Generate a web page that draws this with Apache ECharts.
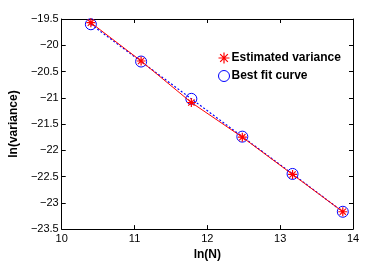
<!DOCTYPE html>
<html><head><meta charset="utf-8">
<script src="https://cdn.jsdelivr.net/npm/echarts@6/dist/echarts.min.js"></script>
<style>html,body{margin:0;padding:0;background:#fff}#c{width:390px;height:266px}</style>
</head><body><div id="c"></div>
<script>
var lnN = [10.40, 11.09, 11.78, 12.48, 13.17, 13.86];
var estimated = [-19.57, -20.30, -21.09, -21.75, -22.46, -23.17];
var bestFit = [-19.60, -20.31, -21.02, -21.74, -22.45, -23.17];
var xTicks = [10, 11, 12, 13, 14];
var yTicks = [-23.5, -23, -22.5, -22, -21.5, -21, -20.5, -20, -19.5];

var star = 'path://M0,-10L0,10M-10,0L10,0M-7,-7L7,7M-7,7L7,-7';
var font = 'Liberation Sans, Arial, sans-serif';
function fmt(v){ return String(v).replace('-', '\u2212'); }
function pairs(ys){ return lnN.map(function(x,i){ return [x, ys[i]]; }); }

var chart = echarts.init(document.getElementById('c'));
var tickStyle = {show:true, inside:true, length:4, lineStyle:{color:'#000', width:1}};
chart.setOption({
  animation:false,
  grid:{left:51, right:37, top:19, bottom:30},
  legend:{
    left:211, top:45, orient:'vertical', itemGap:4, itemWidth:11, itemHeight:11,
    textStyle:{fontFamily:font, fontSize:12, fontWeight:'bold', color:'#000', padding:[0,0,0,-3]},
    data:[
      {name:'Estimated variance', icon:star, itemStyle:{color:'none', borderColor:'#ff0000', borderWidth:1.2}},
      {name:'Best fit curve', icon:'circle', itemStyle:{color:'rgba(0,0,0,0)', borderColor:'#0000ff', borderWidth:1}}
    ]
  },
  xAxis:[{
    type:'value', min:10, max:14, interval:1,
    name:'ln(N)', nameLocation:'middle', nameGap:14,
    nameTextStyle:{fontFamily:font, fontSize:12, fontWeight:'bold', color:'#000'},
    axisLine:{show:true, lineStyle:{color:'#000'}}, axisTick:tickStyle,
    axisLabel:{fontFamily:font, fontSize:11, color:'#000', margin:4, formatter:fmt},
    splitLine:{show:false}
  },{
    type:'value', min:10, max:14, interval:1, position:'top',
    axisLine:{show:true, lineStyle:{color:'#000'}}, axisTick:tickStyle,
    axisLabel:{show:false}, splitLine:{show:false}
  }],
  yAxis:[{
    type:'value', min:-23.5, max:-19.5, interval:0.5,
    name:'ln(variance)', nameLocation:'middle', nameGap:32,
    nameTextStyle:{fontFamily:font, fontSize:12, fontWeight:'bold', color:'#000'},
    axisLine:{show:true, lineStyle:{color:'#000'}}, axisTick:tickStyle,
    axisLabel:{fontFamily:font, fontSize:11, color:'#000', margin:3, formatter:fmt},
    splitLine:{show:false}
  },{
    type:'value', min:-23.5, max:-19.5, interval:0.5, position:'right',
    axisLine:{show:true, lineStyle:{color:'#000'}}, axisTick:tickStyle,
    axisLabel:{show:false}, splitLine:{show:false}
  }],
  series:[{
    name:'Best fit curve', type:'line', data:pairs(bestFit),
    symbol:'circle', symbolSize:11, showAllSymbol:true,
    lineStyle:{color:'#0000ff', width:1.2, type:[2,2]},
    itemStyle:{color:'rgba(0,0,0,0)', borderColor:'#0000ff', borderWidth:1},
    z:2
  },{
    name:'Estimated variance', type:'line', data:pairs(estimated),
    symbol:star, symbolSize:9, showAllSymbol:true,
    lineStyle:{color:'#ff0000', width:1},
    itemStyle:{color:'none', borderColor:'#ff0000', borderWidth:1.2},
    z:3
  }]
});
</script></body></html>
